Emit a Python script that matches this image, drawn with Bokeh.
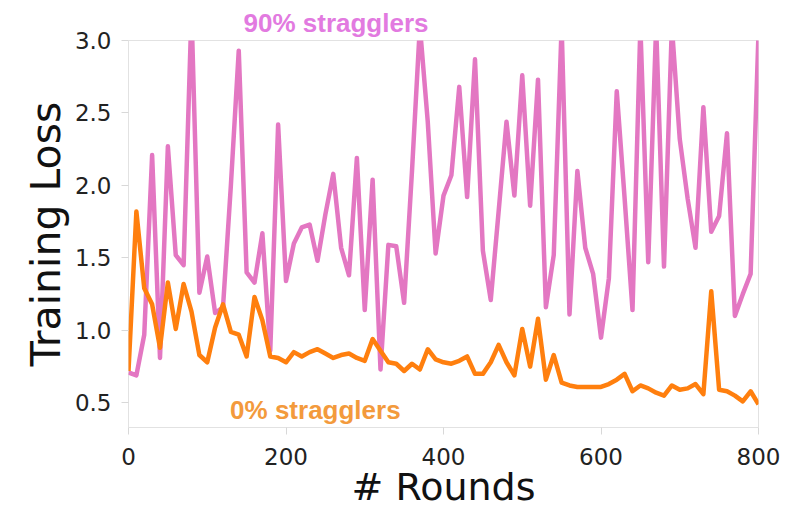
from bokeh.plotting import figure
from bokeh.models import Range1d, FixedTicker, Label, PrintfTickFormatter
from bokeh.embed import file_html
from bokeh.resources import INLINE

# ---------------- data ----------------
rounds = [0, 10, 20, 30, 40, 50, 60, 70, 80, 90,
          100, 110, 120, 130, 140, 150, 160, 170, 180, 190,
          200, 210, 220, 230, 240, 250, 260, 270, 280, 290,
          300, 310, 320, 330, 340, 350, 360, 370, 380, 390,
          400, 410, 420, 430, 440, 450, 460, 470, 480, 490,
          500, 510, 520, 530, 540, 550, 560, 570, 580, 590,
          600, 610, 620, 630, 640, 650, 660, 670, 680, 690,
          700, 710, 720, 730, 740, 750, 760, 770, 780, 790,
          800]

loss_90 = [0.71, 0.69, 0.97, 2.21, 0.81, 2.27, 1.52, 1.45, 3.20, 1.26,
           1.51, 1.12, 1.16, 2.00, 2.93, 1.40, 1.33, 1.67, 0.86, 2.42,
           1.34, 1.60, 1.71, 1.73, 1.48, 1.80, 2.08, 1.57, 1.38, 2.19,
           1.14, 2.04, 0.73, 1.59, 1.58, 1.19, 2.10, 3.10, 2.44, 1.53,
           1.93, 2.07, 2.68, 1.92, 2.87, 1.55, 1.21, 1.82, 2.44, 1.93,
           2.76, 1.86, 2.73, 1.16, 1.52, 3.10, 1.11, 2.10, 1.57, 1.39,
           0.95, 1.36, 2.65, 1.91, 1.14, 3.10, 1.47, 3.10, 1.44, 3.10,
           2.32, 1.91, 1.57, 2.54, 1.68, 1.79, 2.36, 1.10, 1.25, 1.39,
           3.05]

loss_0 = [0.72, 1.82, 1.29, 1.18, 0.88, 1.33, 1.01, 1.32, 1.13, 0.83,
          0.78, 1.02, 1.18, 0.99, 0.97, 0.82, 1.23, 1.07, 0.82, 0.81,
          0.78, 0.85, 0.82, 0.85, 0.87, 0.84, 0.81, 0.83, 0.84, 0.81,
          0.79, 0.94, 0.86, 0.78, 0.77, 0.72, 0.77, 0.73, 0.87, 0.80,
          0.78, 0.77, 0.79, 0.82, 0.70, 0.70, 0.78, 0.90, 0.78, 0.69,
          1.01, 0.75, 1.08, 0.66, 0.83, 0.64, 0.62, 0.61, 0.61, 0.61,
          0.61, 0.63, 0.66, 0.70, 0.58, 0.62, 0.60, 0.57, 0.55, 0.62,
          0.59, 0.60, 0.63, 0.56, 1.27, 0.59, 0.58, 0.55, 0.51, 0.58,
          0.49]

x_ticks = [0, 200, 400, 600, 800]
y_ticks = [0.5, 1.0, 1.5, 2.0, 2.5, 3.0]
x_title = "# Rounds"
y_title = "Training Loss"
label_90 = "90% stragglers"
label_0 = "0% stragglers"

# ---------------- styles ----------------
PINK = "#e377c2"
ORANGE = "#ff7f0e"
PINK_TXT = "#e27ae0"
ORANGE_TXT = "#f39a3c"

p = figure(width=788, height=511, output_backend="svg", toolbar_location=None,
           x_range=Range1d(0, 800), y_range=Range1d(0.33, 3.0),
           min_border_left=128, min_border_right=30,
           min_border_top=40, min_border_bottom=80)

p.background_fill_color = "white"
p.border_fill_color = "white"
p.outline_line_color = "#e2e2e2"
p.outline_line_width = 1
p.xgrid.visible = False
p.ygrid.visible = False

p.line(rounds, loss_90, line_color=PINK, line_width=4.5, line_join="round")
p.line(rounds, loss_0, line_color=ORANGE, line_width=4.5, line_join="round")

for ax in (p.xaxis[0], p.yaxis[0]):
    ax.axis_line_color = None
    ax.major_tick_line_color = "#d8d8d8"
    ax.major_tick_out = 7
    ax.major_tick_in = 0
    ax.minor_tick_line_color = None
    ax.major_label_text_font = "DejaVu Sans"
    ax.major_label_text_font_size = "23px"
    ax.major_label_text_color = "#222222"
    ax.axis_label_text_font = "DejaVu Sans"
    ax.axis_label_text_font_style = "normal"
    ax.axis_label_text_color = "#111111"

p.xaxis.ticker = FixedTicker(ticks=x_ticks)
p.yaxis.ticker = FixedTicker(ticks=y_ticks)
p.yaxis.formatter = PrintfTickFormatter(format="%.1f")

p.xaxis.major_label_standoff = 13
p.xaxis.axis_label = x_title
p.xaxis.axis_label_text_font_size = "38px"
p.xaxis.axis_label_standoff = -3

p.yaxis.major_label_standoff = 10
p.yaxis.axis_label = y_title
p.yaxis.axis_label_text_font_size = "41px"
p.yaxis.axis_label_standoff = 2

p.title.text = label_90
p.title.align = "left"
p.title.offset = 115
p.title.standoff = 6
p.title.text_font = "Liberation Sans"
p.title.text_font_style = "bold"
p.title.text_font_size = "26px"
p.title.text_color = PINK_TXT

p.add_layout(Label(x=129, y=0.45, text=label_0, text_align="left",
                   text_baseline="alphabetic", text_font="Liberation Sans",
                   text_font_style="bold", text_font_size="26px",
                   text_color=ORANGE_TXT))

open("out.html", "w").write(file_html(p, INLINE))
